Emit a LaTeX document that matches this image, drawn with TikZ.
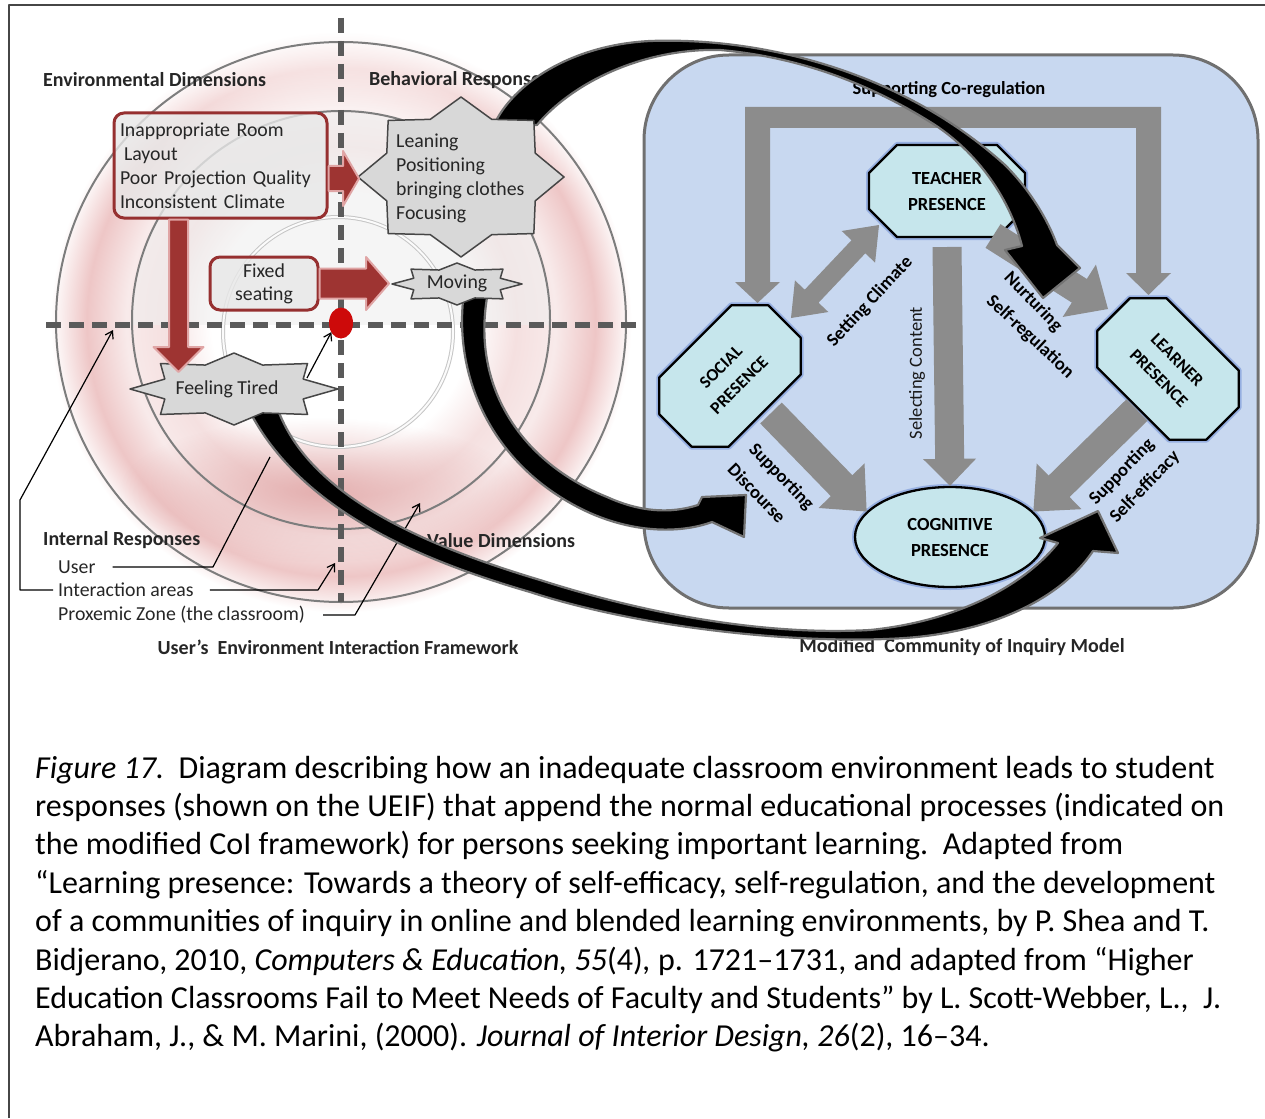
\documentclass[tikz,border=0pt]{standalone}
\usepackage{fontspec}
\setmainfont{Carlito}
\usetikzlibrary{calc,shapes.geometric,arrows.meta,fadings}

\definecolor{framec}{RGB}{70,70,70}
\definecolor{cgray}{RGB}{140,140,140}
\definecolor{panelblue}{RGB}{200,216,240}
\definecolor{paneledge}{RGB}{112,112,112}
\definecolor{presfill}{RGB}{198,230,236}
\definecolor{glowblue}{RGB}{150,175,225}
\definecolor{boxred}{RGB}{150,48,48}
\definecolor{arrowred}{RGB}{158,52,50}
\definecolor{arrowedge}{RGB}{224,165,165}
\definecolor{dotred}{RGB}{205,10,10}
\definecolor{starfill}{RGB}{216,216,216}
\definecolor{staredge}{RGB}{70,70,70}
\definecolor{ringc}{RGB}{125,125,125}
\definecolor{dashgray}{RGB}{90,90,90}
\definecolor{boxfill}{RGB}{232,232,232}
\definecolor{pinkA}{RGB}{245,224,224}
\definecolor{pinkB}{RGB}{248,234,234}
\definecolor{pinkC}{RGB}{238,198,198}
\definecolor{pinkD}{RGB}{222,158,158}
\definecolor{veil}{RGB}{238,238,238}

% pink glow of the interaction rings
\pgfdeclareradialshading{uering}{\pgfpoint{0bp}{0bp}}{%
  color(0bp)=(white); color(10.8bp)=(white); color(14.6bp)=(pinkA);
  color(17.9bp)=(pinkB); color(21.2bp)=(pinkC); color(24.2bp)=(white);
  color(50bp)=(white)}
\tikzfading[name=softblob, inner color=transparent!0, outer color=transparent!100]
\tikzfading[name=topfade, top color=transparent!0, bottom color=transparent!100]

% eight-pointed star: style, cx, cy, rx, ry, inner ratio
\newcommand{\starpoly}[6]{%
  \draw[#1] ({#2+#4},{#3})
    \foreach \k in {1,...,15}{ -- ({#2+#4*cos(22.5*\k)*(isodd(\k) ? #6 : 1)},{#3+#5*sin(22.5*\k)*(isodd(\k) ? #6 : 1)}) } -- cycle;}

% presence octagon: name, cx, cy, rotation, half width, half height, corner cut, font size, text
\newcommand{\octnode}[9]{%
  \begin{scope}[shift={(#2,#3)}, rotate=#4]
    \filldraw[octst] ({-#5+#7},{-#6}) -- ({#5-#7},{-#6}) -- ({#5},{-#6+#7}) -- ({#5},{#6-#7})
      -- ({#5-#7},{#6}) -- ({-#5+#7},{#6}) -- ({-#5},{#6-#7}) -- ({-#5},{-#6+#7}) -- cycle;
  \end{scope}
  \node[rotate=#4, align=center, inner sep=0pt, font=\fontsize{#8}{26}\selectfont\bfseries] (#1) at (#2,#3) {#9};}

% block arrow: [style] tail, tip, half shaft, half head, head length
\newcommand{\blockarrow}[6][fill=cgray]{%
  \path ($(#3)!#6!(#2)$) coordinate (bahead);
  \path[#1] ($(#2)!#4!90:(#3)$) -- ($(bahead)!#4!-90:(#2)$) -- ($(bahead)!#5!-90:(#2)$) -- (#3)
     -- ($(bahead)!#5!90:(#2)$) -- ($(bahead)!#4!90:(#2)$) -- ($(#2)!#4!-90:(#3)$) -- cycle;}

% double-headed block arrow: [style] end A, end B, half shaft, half head, head length
\newcommand{\dblarrow}[6][fill=cgray]{%
  \path ($(#2)!#6!(#3)$) coordinate (dbha) ($(#3)!#6!(#2)$) coordinate (dbhb);
  \path[#1] (#2) -- ($(dbha)!#5!90:(#3)$) -- ($(dbha)!#4!90:(#3)$) -- ($(dbhb)!#4!-90:(#2)$)
     -- ($(dbhb)!#5!-90:(#2)$) -- (#3) -- ($(dbhb)!#5!90:(#2)$) -- ($(dbhb)!#4!90:(#2)$)
     -- ($(dbha)!#4!-90:(#3)$) -- ($(dbha)!#5!-90:(#3)$) -- cycle;}

\tikzset{
  txt/.style={font=\fontsize{19.8}{24}\selectfont, inner sep=0pt, text=black!85},
  hdr/.style={font=\fontsize{20}{24}\selectfont\bfseries, inner sep=0pt, text=black!85},
  cbold/.style={font=\fontsize{18.5}{22}\selectfont\bfseries, inner sep=0pt},
  creg/.style={font=\fontsize{18.5}{22}\selectfont, inner sep=0pt, text=black!90},
  redbox/.style={draw=boxred, line width=3, fill=boxfill, fill opacity=0.8, text opacity=1,
    rounded corners=10, font=\fontsize{19.8}{24}\selectfont, text=black!85, inner sep=4pt},
  starst/.style={fill=starfill, draw=staredge, line width=1.5},
  redarrow/.style={fill=arrowred, draw=arrowedge, line width=2},
  ringline/.style={draw=ringc, line width=2},
  dashln/.style={draw=dashgray, line width=6.5, dash pattern=on 15pt off 8pt},
  leader/.style={draw=black, line width=1.2},
  leadtip/.style={-{Straight Barb[length=7pt,width=9pt]}},
  panel/.style={draw=paneledge, line width=3, fill=panelblue, rounded corners=85},
  octst/.style={fill=presfill, draw=black, line width=2.3, preaction={draw=glowblue, line width=6}},
  presel/.style={ellipse, draw=black, line width=2.3, fill=presfill,
    preaction={draw=glowblue, line width=6}, align=center, inner sep=2pt,
    font=\fontsize{18.5}{26}\selectfont\bfseries},
  swoosh/.style={fill=black, draw=black!55, line width=2.2},
  captxt/.style={anchor=base west, inner sep=0pt, font=\fontsize{32}{38.4}\selectfont}
}

\begin{document}
\begin{tikzpicture}[x=1pt,y=-1pt,line join=round]
\useasboundingbox (0,0) rectangle (1265,1118);

% page frame
\draw[framec, line width=1.5] (9,1118) -- (9,5) -- (1265,5);

% ---------------- User's Environment Interaction Framework ----------------
\shade[shading=uering] (341,322) circle [radius=300];
\fill[pinkD, opacity=0.75, path fading=softblob] (320,490) ellipse [x radius=200, y radius=72];
\fill[white, opacity=0.65, path fading=topfade] (40,30) rectangle (645,190);
\begin{scope}
  \clip (341,320) circle [radius=209];
  \fill[veil, opacity=0.55] (120,100) rectangle (560,325);
\end{scope}

\draw[ringline] (341,322) ellipse [x radius=285, y radius=280];
\draw[ringline] (341,320) circle [radius=209];
\draw[draw=gray!45, double=white!97!gray, double distance=2, line width=1] (338,332) circle [radius=115];

\draw[dashln] (46,325) -- (640,325);
\draw[dashln] (341,18) -- (341,602);

% headings and legend
\node[hdr, anchor=west] (envdim) at (43,80) {Environmental Dimensions};
\node[hdr, anchor=west] (behr) at (369,80) {Behavioral Responses};
\node[hdr, anchor=west] (intr) at (43,540) {Internal Responses};
\node[hdr, anchor=west] (vald) at (427,541) {Value Dimensions};
\node[txt, anchor=west] (usr) at (58,567) {User};
\node[txt, anchor=west] (ia) at (58,590) {Interaction areas};
\node[txt, anchor=west] (pz) at (58,615) {Proxemic Zone (the classroom)};
\node[hdr] (ueif) at (338,647) {User’s\ \ Environment Interaction Framework};

% environment boxes
\node[redbox, minimum width=213, minimum height=105, text width=201, align=left] (env) at (220.5,165.5)
  {Inappropriate Room\\\hspace*{4pt}Layout\\Poor Projection Quality\\Inconsistent Climate};
\node[redbox, minimum width=108, minimum height=53, align=center, font=\fontsize{19.8}{23}\selectfont] (fix) at (264,283.5)
  {Fixed\\seating};

% the user and its leaders
\node[ellipse, fill=dotred, minimum width=24, minimum height=31, inner sep=0pt] (dot) at (341,323) {};
\coordinate (u1) at (213,567);
\coordinate (u2) at (270,457);
\draw[leader] ($(usr.east)+(17,0)$) -- (u1) -- (u2);
\coordinate (ia1) at (318,590);
\coordinate (ia2) at (335,563);
\draw[leader, leadtip] ($(ia.east)+(16,0)$) -- (ia1) -- (ia2);
\coordinate (ib1) at (20,590);
\coordinate (ib2) at (20,500);
\coordinate (ib3) at (113,330);
\draw[leader, leadtip] ($(ia.west)+(-5,0)$) -- (ib1) -- (ib2) -- (ib3);
\coordinate (pz1) at (355,615);
\coordinate (pz2) at (420,503);
\draw[leader, leadtip] ($(pz.east)+(18,0)$) -- (pz1) -- (pz2);
\coordinate (ftd) at (307,378);
\draw[leader, leadtip] (ftd) -- ($(dot.south west)+(-1,-2)$);

% ---------------- Modified Community of Inquiry Model ----------------
\node[panel, minimum width=614, minimum height=553] (coi) at (951,331.5) {};
\node[cbold] (coreg) at (949,90) {Supporting Co-regulation};

\octnode{teach}{947}{191}{0}{78}{46}{28}{18.5}{TEACHER\\PRESENCE}
\octnode{soc}{730}{376}{45}{77}{49}{26}{17.5}{SOCIAL\\PRESENCE}
\octnode{learn}{1168}{369}{-45}{77}{49}{26}{17.5}{LEARNER\\PRESENCE}
\node[presel, minimum width=190, minimum height=100] (cog) at (950,537) {COGNITIVE\\PRESENCE};

% co-regulation frame from the top bar down to social and learner presence
\fill[cgray] (745,107) -- (1161,107) -- (1161,273) -- (1171,273) -- (1148.5,295) -- (1126,273)
  -- (1136,273) -- (1136,128) -- (770,128) -- (770,282) -- (780,282) -- (757.5,303)
  -- (735,282) -- (745,282) -- cycle;

\coordinate (scl-a) at ($(teach.center)+(-68,34)$);
\coordinate (scl-b) at ($(soc.center)+(61,-58)$);
\dblarrow{scl-a}{scl-b}{9.5pt}{23pt}{30pt}
\coordinate (sel-a) at ($(teach.center)+(0,56)$);
\blockarrow{sel-a}{cog.north}{14.5pt}{26.5pt}{27pt}
\coordinate (nur-a) at ($(teach.center)+(46,45)$);
\coordinate (nur-b) at ($(learn.center)+(-60,-60)$);
\blockarrow{nur-a}{nur-b}{14pt}{31pt}{34pt}
\coordinate (dis-a) at ($(soc.center)+(41,37)$);
\blockarrow{dis-a}{cog.163}{15pt}{32pt}{36pt}
\coordinate (eff-a) at ($(learn.center)+(-31,41)$);
\blockarrow{eff-a}{cog.17}{15pt}{32pt}{36pt}

\node[cbold, rotate=47] (lsc) at (870,302) {Setting Climate};
\node[creg, rotate=90] (lsel) at (917,373) {Selecting Content};
\node[cbold, rotate=-46] (lnur1) at (1033,302) {Nurturing};
\node[cbold, rotate=-43] (lnur2) at (1030,337) {Self-regulation};
\node[cbold, rotate=-46] (lsd1) at (781,477) {Supporting};
\node[cbold, rotate=-46] (lsd2) at (757,493) {Discourse};
\node[cbold, rotate=46] (lse1) at (1122,472) {Supporting};
\node[cbold, rotate=46] (lse2) at (1145,487) {Self-efficacy};
\node[hdr] (coim) at (962,647) {Modified\ \ Community of Inquiry Model};

% ---------------- curved links from the responses to the model ----------------
\filldraw[swoosh] (494,125) .. controls (512,85) and (570,45) .. (650,41)
  .. controls (760,37) and (900,70) .. (1005,165)
  .. controls (1030,190) and (1048,220) .. (1057,245)
  -- (1080,268) -- (1043,298) -- (1005,250) -- (1022,246)
  .. controls (1010,200) and (980,155) .. (935,125)
  .. controls (880,90) and (810,58) .. (720,50)
  .. controls (640,48) and (570,85) .. (537,125) -- cycle;

\filldraw[swoosh] (464,292) .. controls (452,380) and (495,470) .. (590,513)
  .. controls (640,535) and (685,532) .. (712,522)
  -- (744,537) -- (746,495) -- (702,497) -- (698,505)
  .. controls (670,514) and (640,512) .. (607,497)
  .. controls (520,462) and (470,385) .. (488,292) -- cycle;

\filldraw[swoosh] (249,410) .. controls (300,510) and (420,560) .. (530,592)
  .. controls (640,628) and (800,645) .. (905,638)
  .. controls (990,632) and (1060,600) .. (1093,551)
  -- (1118,553) -- (1098,511) -- (1040,538) -- (1058,543)
  .. controls (1020,590) and (950,622) .. (870,630)
  .. controls (760,636) and (640,612) .. (540,580)
  .. controls (420,544) and (310,495) .. (278,410) -- cycle;

% response stars
\starpoly{starst}{461}{177}{103}{80}{0.78}
\starpoly{starst}{457}{284}{65}{21}{0.72}
\starpoly{starst}{234}{389}{104}{36}{0.72}
\node[txt, anchor=west, align=left] (lean) at (396,178) {Leaning\\Positioning\\bringing clothes\\Focusing};
\node[txt] (mov) at (457,283) {Moving};
\node[txt] (ft) at (227,389) {Feeling Tired};

% environment-to-response arrows
\coordinate (env-r) at ($(env.east)+(0,13)$);
\coordinate (lean-w) at (359,178.5);
\blockarrow[redarrow]{env-r}{lean-w}{12.5pt}{27.5pt}{16pt}
\coordinate (mov-w) at (389,283.5);
\blockarrow[redarrow]{fix.east}{mov-w}{15pt}{26.5pt}{23pt}
\coordinate (env-d) at ($(env.south)+(-42,0)$);
\coordinate (ft-n) at (178.5,372);
\blockarrow[redarrow]{env-d}{ft-n}{9.5pt}{25pt}{25pt}

% ---------------- caption ----------------
\node[captxt] (cap1) at (35,778) {\textit{Figure 17.}\ \ Diagram describing how an inadequate classroom environment leads to student};
\node[captxt] (cap2) at (35,816.4) {responses (shown on the UEIF) that append the normal educational processes (indicated on};
\node[captxt] (cap3) at (35,854.8) {the modified CoI framework) for persons seeking important learning.\ \ Adapted from};
\node[captxt] (cap4) at (35,893.2) {“Learning presence: Towards a theory of self-efficacy, self-regulation, and the development};
\node[captxt] (cap5) at (35,931.6) {of a communities of inquiry in online and blended learning environments, by P. Shea and T.};
\node[captxt] (cap6) at (35,970) {Bidjerano, 2010, \textit{Computers \& Education, 55}(4)\textit{,} p. 1721–1731, and adapted from “Higher};
\node[captxt] (cap7) at (35,1008.4) {Education Classrooms Fail to Meet Needs of Faculty and Students” by L. Scott-Webber, L.,\ \ J.};
\node[captxt] (cap8) at (35,1046.8) {Abraham, J., \& M. Marini, (2000). \textit{Journal of Interior Design, 26}(2), 16–34.};
\end{tikzpicture}
\end{document}
